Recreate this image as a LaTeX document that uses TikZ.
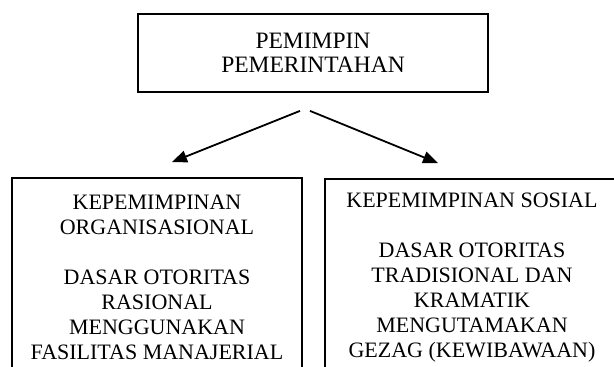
\documentclass[tikz,border=0pt]{standalone}
\usepackage{fontspec}
\setmainfont{Liberation Serif}
\usetikzlibrary{arrows.meta, positioning}

\begin{document}
\begin{tikzpicture}[
            box/.style={draw, line width=1.8pt, align=center,
                    font=\fontsize{22}{25}\selectfont, inner sep=0pt},
            arr/.style={-{Triangle[length=15pt,width=12pt]}, line width=1.8pt}]
        \useasboundingbox (0,0) rectangle (614pt,-367pt);
        \node[box, minimum width=350pt, minimum height=78pt,
              font=\fontsize{23.5}{24}\selectfont] (pemimpin) at (313pt,-53pt)
            {PEMIMPIN\\ PEMERINTAHAN};
        \node[box, minimum width=290pt, minimum height=198pt] (organisasi) at (157pt,-277pt)
            {KEPEMIMPINAN\\ ORGANISASIONAL\\[25pt] DASAR OTORITAS\\ RASIONAL\\
             MENGGUNAKAN\\ FASILITAS MANAJERIAL};
        \node[box, minimum width=294pt, minimum height=198pt] (sosial) at (472pt,-278pt)
            {KEPEMIMPINAN SOSIAL\\[25pt] DASAR OTORITAS\\ TRADISIONAL DAN\\ KRAMATIK\\
             MENGUTAMAKAN\\ GEZAG (KEWIBAWAAN)};
        \draw[arr] ([shift={(-13pt,-18pt)}]pemimpin.south) -- ([shift={(15pt,15pt)}]organisasi.north);
        \draw[arr] ([shift={(-3pt,-18pt)}]pemimpin.south) -- ([shift={(-34pt,15pt)}]sosial.north);
    \end{tikzpicture}
\end{document}
